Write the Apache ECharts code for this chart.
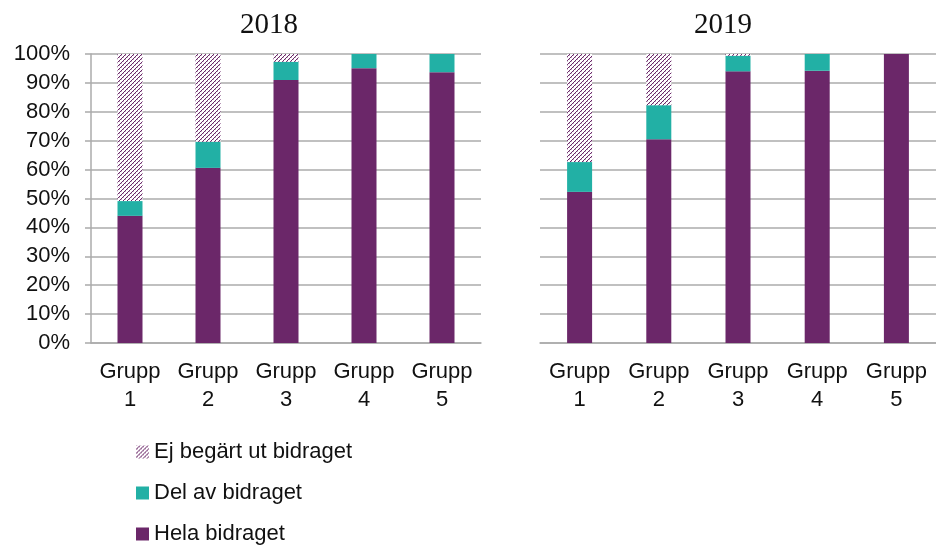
<!DOCTYPE html>
<html>
<head>
<meta charset="utf-8">
<script src="https://cdn.jsdelivr.net/npm/echarts@6/dist/echarts.min.js"></script>
<style>
  html, body { margin: 0; padding: 0; background: #fff; }
  #chart { width: 936px; height: 547px; }
</style>
</head>
<body>
<div id="chart"></div>
<script>
// data
const categories = ['Grupp 1', 'Grupp 2', 'Grupp 3', 'Grupp 4', 'Grupp 5']
const years = ['2018', '2019']
const hela2018 = [44.0, 60.6, 91.0, 95.1, 93.7]
const del2018 = [5.1, 9.0, 6.3, 4.9, 6.3]
const ej2018 = [50.9, 30.4, 2.7, 0, 0]
const hela2019 = [52.3, 70.5, 94.0, 94.2, 100]
const del2019 = [10.3, 11.8, 5.4, 5.8, 0]
const ej2019 = [37.4, 17.7, 0.6, 0, 0]
const yTicks = [0, 10, 20, 30, 40, 50, 60, 70, 80, 90, 100]

const PURPLE = '#6b2769'
const TEAL = '#22b0a5'
const GRID = '#ababab'
const FONT = 'Liberation Sans, Arial, sans-serif'

// hatch pattern for "Ej begärt ut bidraget"
function makeHatch() {
  const c = document.createElement('canvas')
  c.width = 4
  c.height = 4
  const ctx = c.getContext('2d')
  ctx.fillStyle = '#fff'
  ctx.fillRect(0, 0, 4, 4)
  ctx.fillStyle = PURPLE
  // diagonal bottom-left -> top-right
  ctx.fillRect(0, 3, 1, 1)
  ctx.fillRect(1, 2, 1, 1)
  ctx.fillRect(2, 1, 1, 1)
  ctx.fillRect(3, 0, 1, 1)
  ctx.globalAlpha = 0.35
  ctx.fillRect(1, 3, 1, 1)
  ctx.fillRect(3, 1, 1, 1)
  return c
}
const hatch = { image: makeHatch(), repeat: 'repeat' }

const chart = echarts.init(document.getElementById('chart'))

const xAxisCommon = {
  type: 'category',
  data: categories,
  axisLine: { show: true, lineStyle: { color: GRID, width: 1.5 } },
  axisTick: { show: false },
  axisLabel: {
    interval: 0,
    color: '#111',
    fontFamily: FONT,
    fontSize: 22,
    lineHeight: 28,
    margin: 15,
    formatter: v => v.replace(' ', '\n')
  }
}

const yAxisCommon = {
  type: 'value',
  min: 0,
  max: 100,
  interval: 10,
  splitLine: { lineStyle: { color: GRID, width: 1.5 } }
}

function barSeries(name, data, idx, color) {
  return {
    name: name,
    type: 'bar',
    stack: 'y' + idx,
    xAxisIndex: idx,
    yAxisIndex: idx,
    barWidth: 25,
    data: data,
    itemStyle: { color: color },
    emphasis: { disabled: true }
  }
}

const titleStyle = { fontFamily: 'Liberation Serif, serif', fontWeight: 'normal', fontSize: 29, color: '#111' }

const option = {
  backgroundColor: '#fff',
  animation: false,
  title: [
    { text: years[0], left: 264, top: 6, textAlign: 'center', textStyle: titleStyle },
    { text: years[1], left: 718, top: 6, textAlign: 'center', textStyle: titleStyle }
  ],
  legend: {
    orient: 'vertical',
    left: 136,
    top: 441,
    height: 110,
    padding: 0,
    itemWidth: 13,
    itemHeight: 13,
    itemGap: 19,
    icon: 'rect',
    textStyle: { fontFamily: FONT, fontSize: 22, lineHeight: 22, color: '#111' },
    data: ['Ej begärt ut bidraget', 'Del av bidraget', 'Hela bidraget']
  },
  grid: [
    { left: 91, top: 54, width: 390, height: 289 },
    { left: 540, top: 54, width: 396, height: 289 }
  ],
  xAxis: [
    Object.assign({ gridIndex: 0 }, xAxisCommon),
    Object.assign({ gridIndex: 1 }, xAxisCommon)
  ],
  yAxis: [
    Object.assign({
      gridIndex: 0,
      axisLine: { show: true, lineStyle: { color: GRID, width: 1.5 } },
      axisTick: { show: true, inside: false, length: 6, lineStyle: { color: GRID, width: 1.5 } },
      axisLabel: {
        color: '#111',
        fontFamily: FONT,
        fontSize: 22,
        margin: 21,
        formatter: v => (yTicks.includes(v) ? v + '%' : '')
      }
    }, yAxisCommon),
    Object.assign({
      gridIndex: 1,
      axisLine: { show: false },
      axisTick: { show: false },
      axisLabel: { show: false }
    }, yAxisCommon)
  ],
  series: [
    barSeries('Hela bidraget', hela2018, 0, PURPLE),
    barSeries('Del av bidraget', del2018, 0, TEAL),
    barSeries('Ej begärt ut bidraget', ej2018, 0, hatch),
    barSeries('Hela bidraget', hela2019, 1, PURPLE),
    barSeries('Del av bidraget', del2019, 1, TEAL),
    barSeries('Ej begärt ut bidraget', ej2019, 1, hatch)
  ]
}

chart.setOption(option)
</script>
</body>
</html>
